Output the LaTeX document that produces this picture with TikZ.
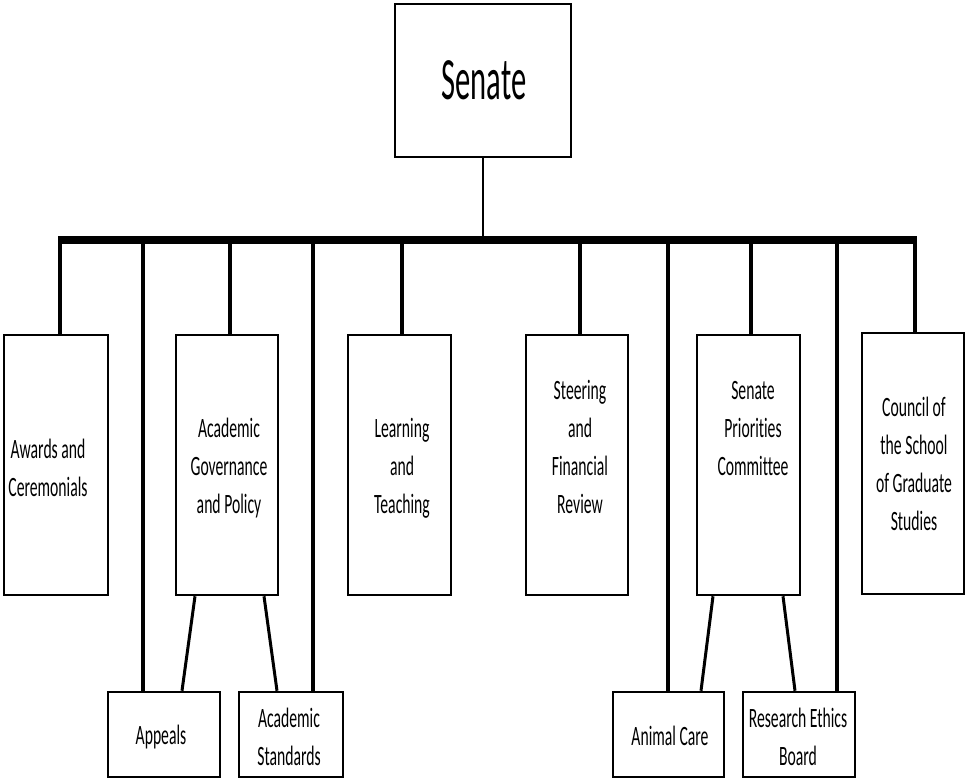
\documentclass[tikz,border=0pt]{standalone}
\usepackage{fontspec}
\setmainfont[Ligatures={NoCommon}]{Carlito}
\usetikzlibrary{calc}
\newcommand{\sqz}[2][0.56]{\scalebox{#1}[1]{\begin{tabular}{@{}c@{}}#2\end{tabular}}}
\tikzset{
  box/.style={draw, line width=2.5pt, inner sep=0pt, fill=white},
  txt/.style={inner sep=0pt, font=\fontsize{28}{38}\selectfont},
  conn/.style={line width=4pt},
  barline/.style={line width=7.5pt},
  slant/.style={line width=3pt},
  topline/.style={line width=2.5pt}
}
\begin{document}
\begin{tikzpicture}[x=1pt,y=1pt]
\useasboundingbox (0,0) rectangle (966,-779);
% boxes
\node[box, minimum width=176pt, minimum height=153pt] (sen) at (483,-80.5) {};
\node[box, minimum width=104pt, minimum height=260pt] (aw) at (56,-465) {};
\node[box, minimum width=102pt, minimum height=260pt] (ag) at (227,-465) {};
\node[box, minimum width=103pt, minimum height=260pt] (lt) at (399.5,-465) {};
\node[box, minimum width=102pt, minimum height=260pt] (sf) at (577,-465) {};
\node[box, minimum width=103pt, minimum height=260pt] (sp) at (748.5,-465) {};
\node[box, minimum width=102pt, minimum height=261pt] (cs) at (913,-463.5) {};
\node[box, minimum width=112pt, minimum height=85pt] (ap) at (164,-734.5) {};
\node[box, minimum width=104pt, minimum height=85pt] (as) at (291,-734.5) {};
\node[box, minimum width=111pt, minimum height=85pt] (ac) at (668.5,-734.5) {};
\node[box, minimum width=112pt, minimum height=85pt] (re) at (799,-734.5) {};
% texts
\node[inner sep=0pt, font=\fontsize{60}{70}\selectfont] (sent) at (484,-80) {\scalebox{0.51}[1]{Senate}};
\node[txt] (awt) at (48,-470) {\sqz{Awards and\\Ceremonials}};
\node[txt] (agt) at (229,-468) {\sqz{Academic\\Governance\\and Policy}};
\node[txt] (ltt) at (402,-468) {\sqz{Learning\\and\\Teaching}};
\node[txt] (sft) at (580,-449) {\sqz{Steering\\and\\Financial\\Review}};
\node[txt] (spt) at (753,-430) {\sqz{Senate\\Priorities\\Committee}};
\node[txt] (cst) at (914,-466) {\sqz{Council of\\the School\\of Graduate\\Studies}};
\node[txt] (apt) at (161,-737) {\sqz{Appeals}};
\node[txt] (ast) at (289,-739) {\sqz{Academic\\Standards}};
\node[txt] (act) at (670,-738) {\sqz{Animal Care}};
\node[txt] (ret) at (798,-739) {\sqz{Research Ethics\\Board}};
% bar coordinates
\coordinate (v1) at (60,-240);
\coordinate (v2) at (143,-240);
\coordinate (v3) at (230,-240);
\coordinate (v4) at (313,-240);
\coordinate (v5) at (402,-240);
\coordinate (v6) at (580,-240);
\coordinate (v7) at (668,-240);
\coordinate (v8) at (751,-240);
\coordinate (v9) at (837,-240);
\coordinate (v10) at (915,-240);
% connectors
\draw[topline] (sen.south) -- (sen.south |- v1);
\draw[conn] (v1) -- (v1 |- aw.north);
\draw[conn] (v2) -- (v2 |- ap.north);
\draw[conn] (v3) -- (v3 |- ag.north);
\draw[conn] (v4) -- (v4 |- as.north);
\draw[conn] (v5) -- (v5 |- lt.north);
\draw[conn] (v6) -- (v6 |- sf.north);
\draw[conn] (v7) -- (v7 |- ac.north);
\draw[conn] (v8) -- (v8 |- sp.north);
\draw[conn] (v9) -- (v9 |- re.north);
\draw[conn] (v10) -- (v10 |- cs.north);
\draw[barline] ($(v1)+(-2,0)$) -- ($(v10)+(2,0)$);
\draw[slant] ($(ag.south)+(-32,0)$) -- ($(ap.north)+(18,0)$);
\draw[slant] ($(ag.south)+(37,0)$) -- ($(as.north)+(-14,0)$);
\draw[slant] ($(sp.south)+(-35.5,0)$) -- ($(ac.north)+(32.5,0)$);
\draw[slant] ($(sp.south)+(34.5,0)$) -- ($(re.north)+(-4,0)$);
\end{tikzpicture}
\end{document}
